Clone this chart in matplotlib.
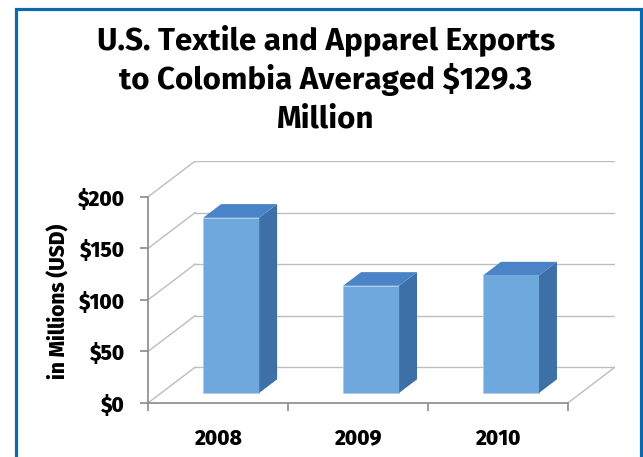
import matplotlib
matplotlib.use("Agg")
import matplotlib.pyplot as plt
from matplotlib.patches import Polygon, Rectangle

years = ["2008", "2009", "2010"]
exports = [170, 104, 114]  # millions USD
yticks = [0, 50, 100, 150, 200]
ytick_labels = ["$0", "$50", "$100", "$150", "$200"]
title_lines = ["U.S. Textile and Apparel Exports",
               "to Colombia Averaged $129.3",
               "Million"]

W, H = 643, 457
fig = plt.figure(figsize=(W / 100, H / 100), dpi=100)

# oblique depth offset of the back wall, in data units
DX = 0.3375
DY = 34.8
d0, d1 = 0.28, 0.66      # bar front/back depth fractions
bw = 0.40                # bar width (category units)

front_c = "#6fa8dc"
top_c = "#4a83c6"
side_c = "#3c70a6"
grid_c = "#bdbdbd"
axis_c = "#8a8a8a"
lab_font = ["Fira Sans", "DejaVu Sans"]
title_font = ["Fira Sans", "DejaVu Sans"]

ax = fig.add_axes([148 / W, 54 / H, 467 / W, 242 / H])
ax.set_xlim(0, 3 + DX)
ax.set_ylim(0, 200 + DY)

# back wall + side wall gridlines
for v in yticks:
    ax.plot([DX, 3 + DX], [v + DY, v + DY], color=grid_c, lw=1, zorder=1)
    ax.plot([0, DX], [v, v + DY], color=grid_c, lw=1, zorder=1)
ax.plot([3, 3 + DX], [0, DY], color=grid_c, lw=1, zorder=1)

# bars (front face via ax.bar, side and top as polygons)
xs = [i + 0.5 + d0 * DX for i in range(len(years))]
ax.bar(xs, exports, width=bw, bottom=d0 * DY, color=front_c,
       edgecolor="#a9cbec", linewidth=0.6, zorder=3)
ddx = (d1 - d0) * DX
ddy = (d1 - d0) * DY
for x, v in zip(xs, exports):
    l, r = x - bw / 2, x + bw / 2
    b, t = d0 * DY, d0 * DY + v
    ax.add_patch(Polygon([(r, b), (r + ddx, b + ddy), (r + ddx, t + ddy), (r, t)],
                         closed=True, facecolor=side_c, edgecolor="none", zorder=3))
    ax.add_patch(Polygon([(l, t), (l + ddx, t + ddy), (r + ddx, t + ddy), (r, t)],
                         closed=True, facecolor=top_c, edgecolor="none", zorder=3))

# axes
for s in ["top", "right"]:
    ax.spines[s].set_visible(False)
ax.spines["left"].set_bounds(0, 200)
ax.spines["bottom"].set_bounds(0, 3)
for s in ["left", "bottom"]:
    ax.spines[s].set_color(axis_c)
    ax.spines[s].set_linewidth(1.2)

ax.set_yticks(yticks)
ax.set_yticklabels(ytick_labels, fontweight=800, family=lab_font)
ax.set_xticks([0, 1, 2, 3])
ax.set_xticklabels([])
ax.set_xticks([0.5, 1.5, 2.5], minor=True)
ax.set_xticklabels(years, minor=True, fontweight=800, family=lab_font)
ax.tick_params(axis="y", direction="out", length=6, width=1.2, color=axis_c,
               pad=10.5, labelsize=15)
ax.tick_params(axis="x", which="major", direction="out", length=6, width=1.2,
               color=axis_c)
ax.tick_params(axis="x", which="minor", length=0, pad=18, labelsize=15)

fig.text(59 / W, 1 - 301 / H, "in Millions (USD)", rotation=90,
         ha="center", va="center", fontsize=15, fontweight=800,
         family=lab_font)

for y_px, line in zip([49, 89, 128], title_lines):
    fig.text(326 / W, 1 - y_px / H, line, ha="center", va="baseline",
             fontsize=22.6, fontweight="bold", family=title_font)

# blue frame around the chart
fig.patches.append(Rectangle((16 / W, -0.05), 625 / W, 1.05 - 9.5 / H,
                             transform=fig.transFigure, fill=False,
                             edgecolor="#0a6aae", linewidth=2.3))

fig.savefig("out.png", dpi=100)
